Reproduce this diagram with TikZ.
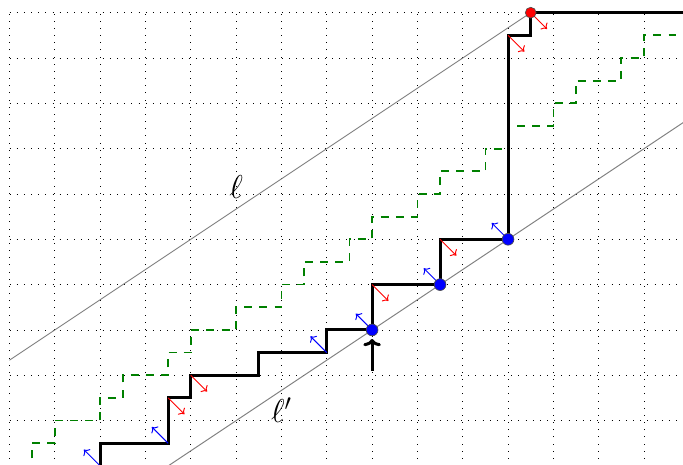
\documentclass[tikz,border=0pt]{standalone}
\usetikzlibrary{arrows.meta}
\begin{document}
\begin{tikzpicture}[x=0.5cm,y=0.5cm,
  gridline/.style={loosely dotted, line width=0.5pt, black},
  greenpath/.style={green!50!black, line width=1.1pt, dash pattern=on 5pt off 4.5pt},
  grayline/.style={gray, line width=0.6pt},
  blackpath/.style={black, line width=1.9pt, line join=miter},
  bluearr/.style={blue, line width=0.6pt, -{To[length=3pt,width=6pt]}},
  redarr/.style={red, line width=0.6pt, -{To[length=3pt,width=6pt]}},
  bluedot/.style={circle, fill=blue, draw=black!70, line width=0.4pt, inner sep=0pt, minimum size=7.4pt},
  reddot/.style={circle, fill=red, draw=black!70, line width=0.4pt, inner sep=0pt, minimum size=6.8pt},
  bigarr/.style={black, line width=1.9pt, -{To[length=4.5pt,width=11pt]}},
  lbl/.style={inner sep=0pt, font=\huge}]
\useasboundingbox (-0.42,0.08) rectangle (29.72,20.56);
\clip (-0.42,0.08) rectangle (29.72,20.56);
% grid
\draw[gridline] (0,0) grid (30,20);
% green staircase
\draw[greenpath] (1,-1) -- (1,1) -- (2,1) -- (2,2) -- (4,2) -- (4,3) -- (5,3) -- (5,4) -- (7,4) -- (7,5) -- (8,5) -- (8,6) -- (10,6) -- (10,7) -- (12,7) -- (12,8) -- (13,8) -- (13,9) -- (15,9) -- (15,10) -- (16,10) -- (16,11) -- (18,11) -- (18,12) -- (19,12) -- (19,13) -- (21,13) -- (21,14) -- (22,14) -- (22,15) -- (24,15) -- (24,16) -- (25,16) -- (25,17) -- (27,17) -- (27,18) -- (28,18) -- (28,19) -- (31,19);
% coordinates
\coordinate (l1) at (0,14/3);
\coordinate (R) at (23,20);
\coordinate (m1) at (7,0);
\coordinate (m2) at (31,16);
\coordinate (b0) at (4,0);
\coordinate (b1) at (7,1);
\coordinate (b2) at (14,5);
\coordinate (B1) at (16,6);
\coordinate (B2) at (19,8);
\coordinate (B3) at (22,10);
\coordinate (r1) at (7,3);
\coordinate (r2) at (8,4);
\coordinate (r3) at (16,8);
\coordinate (r4) at (19,10);
\coordinate (r5) at (22,19);
% lines l and l'
\draw[grayline] (l1) -- (R);
\draw[grayline] (m1) -- (m2);
% black staircase
\draw[blackpath] (4,-1) -- (4,1) -- (b1) -- (r1) -- (8,3) -- (r2) -- (11,4) -- (11,5) -- (b2) -- (14,6) -- (B1) -- (r3) -- (B2) -- (r4) -- (B3) -- (r5) -- (23,19) -- (R) -- (31,20);
% small arrows
\foreach \p in {b0,b1,b2,B1,B2,B3} \draw[bluearr] (\p) -- ++(-0.72,0.72);
\foreach \p in {r1,r2,r3,r4,r5,R} \draw[redarr] (\p) -- ++(0.72,-0.72);
% dots
\node[bluedot] (d1) at (B1) {};
\node[bluedot] (d2) at (B2) {};
\node[bluedot] (d3) at (B3) {};
\node[reddot] (d4) at (R) {};
% big arrow
\coordinate (a0) at (16,4.2);
\coordinate (a1) at (16,5.6);
\draw[bigarr] (a0) -- (a1);
% labels
\node[lbl] (ell) at (10,12.3) {$\ell$};
\node[lbl] (ellp) at (12,2.45) {$\ell'$};
\end{tikzpicture}
\end{document}
